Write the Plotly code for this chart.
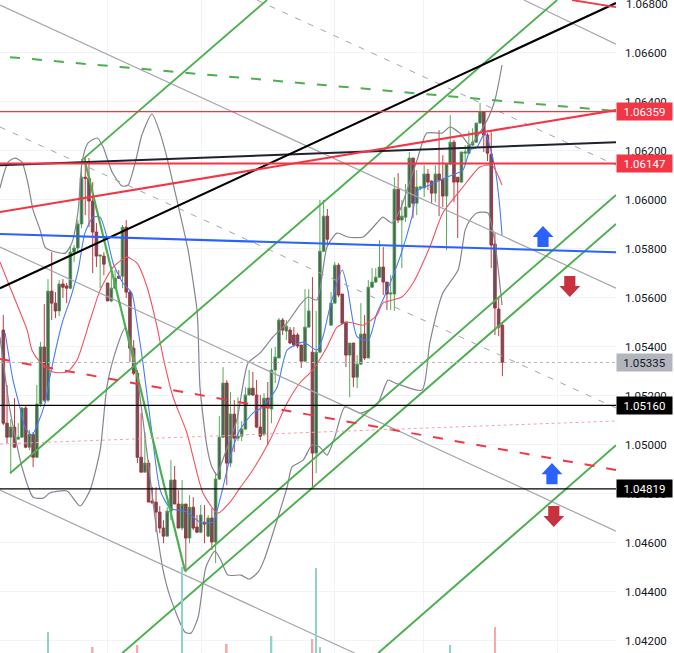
import plotly.graph_objects as go

open_ = [1.05467,1.05087,1.05030,1.05071,1.05022,1.05030,1.05149,1.04989,1.05042,1.04948,
1.05165,1.05398,1.05181,1.05626,1.05577,1.05545,1.05655,1.05647,1.05638,1.05785,
1.05802,1.05900,1.06091,1.06087,1.05994,1.05867,1.05769,1.05769,1.05659,1.05586,
1.05638,1.05687,1.05687,1.05887,1.05622,1.05393,1.05291,1.04948,1.04887,1.04924,
1.04769,1.04765,1.04724,1.04659,1.04626,1.04728,1.04855,1.04757,1.04659,1.04757,
1.04618,1.04744,1.04663,1.04642,1.04683,1.04626,1.04700,1.04602,1.04859,1.05030,
1.05251,1.04924,1.05124,1.05026,1.05034,1.05063,1.05202,1.05230,1.05202,1.05071,
1.05042,1.05189,1.05145,1.05304,1.05353,1.05508,1.05463,1.05467,1.05447,1.05447,
1.05406,1.05340,1.05479,1.05377,1.04965,1.05377,1.05789,1.05932,1.05487,1.05577,
1.05732,1.05614,1.05500,1.05365,1.05414,1.05275,1.05328,1.05451,1.05353,1.05642,
1.05663,1.05683,1.05724,1.05663,1.05614,1.05614,1.06042,1.05916,1.05928,1.05969,
1.06169,1.05985,1.06047,1.06047,1.06104,1.06075,1.06026,1.06104,1.06083,1.06014,
1.06145,1.06234,1.06091,1.06071,1.06189,1.06189,1.06222,1.06234,1.06312,1.06357,
1.06263,1.06185,1.05818,1.05553,1.05487]
high = [1.05529,1.05243,1.05104,1.05189,1.05087,1.05153,1.05161,1.05059,1.05051,1.05243,
1.05418,1.05573,1.05675,1.05785,1.05622,1.05671,1.05675,1.05659,1.05810,1.05814,
1.05916,1.06165,1.06173,1.06169,1.06071,1.05904,1.05773,1.05785,1.05659,1.05712,
1.05712,1.05712,1.05896,1.05916,1.05630,1.05426,1.05304,1.05128,1.05051,1.04936,
1.04826,1.04826,1.04749,1.04691,1.04744,1.04936,1.04912,1.04814,1.04855,1.04757,
1.04793,1.04785,1.04712,1.04753,1.04753,1.04712,1.04740,1.04887,1.05116,1.05316,
1.05263,1.05214,1.05181,1.05193,1.05096,1.05234,1.05304,1.05296,1.05263,1.05202,
1.05210,1.05255,1.05393,1.05398,1.05516,1.05516,1.05508,1.05479,1.05479,1.05455,
1.05406,1.05634,1.05634,1.05683,1.05545,1.05998,1.05998,1.05961,1.05622,1.05745,
1.05740,1.05614,1.05500,1.05414,1.05414,1.05365,1.05577,1.05528,1.05671,1.05720,
1.05720,1.05834,1.05806,1.05663,1.05691,1.06091,1.06108,1.05998,1.06063,1.06194,
1.06169,1.06120,1.06055,1.06140,1.06124,1.06079,1.06140,1.06283,1.06181,1.06145,
1.06345,1.06243,1.06091,1.06194,1.06222,1.06279,1.06291,1.06312,1.06394,1.06357,
1.06271,1.06275,1.05863,1.05602,1.05491]
low = [1.05079,1.05006,1.04883,1.04985,1.05018,1.05026,1.04985,1.04977,1.04908,1.04944,
1.05153,1.05173,1.05173,1.05508,1.05516,1.05524,1.05598,1.05577,1.05634,1.05745,
1.05781,1.05883,1.05936,1.05887,1.05700,1.05724,1.05638,1.05691,1.05586,1.05581,
1.05638,1.05675,1.05638,1.05598,1.05336,1.05283,1.04924,1.04887,1.04887,1.04765,
1.04761,1.04642,1.04638,1.04597,1.04626,1.04691,1.04757,1.04659,1.04650,1.04479,
1.04597,1.04650,1.04638,1.04638,1.04597,1.04622,1.04569,1.04516,1.04855,1.05026,
1.04834,1.04908,1.04969,1.05014,1.05014,1.05059,1.05202,1.05198,1.05067,1.05018,
1.05034,1.04997,1.05087,1.05251,1.05353,1.05447,1.05426,1.05410,1.05398,1.05393,
1.05312,1.05336,1.05479,1.04822,1.04883,1.05373,1.05785,1.05810,1.05487,1.05577,
1.05602,1.05491,1.05316,1.05193,1.05234,1.05230,1.05324,1.05345,1.05353,1.05638,
1.05659,1.05679,1.05610,1.05549,1.05549,1.05545,1.05904,1.05720,1.05908,1.05965,
1.05924,1.05936,1.06038,1.06010,1.06038,1.05985,1.05989,1.05932,1.05969,1.05794,
1.06140,1.05989,1.05843,1.06067,1.06140,1.06185,1.06218,1.06230,1.06308,1.06194,
1.06157,1.05720,1.05447,1.05442,1.05279]
close = [1.05087,1.05030,1.05071,1.04989,1.05030,1.05149,1.04989,1.05042,1.04948,1.05165,
1.05398,1.05181,1.05626,1.05577,1.05545,1.05655,1.05642,1.05638,1.05785,1.05802,
1.05900,1.06091,1.06087,1.05994,1.05867,1.05769,1.05773,1.05736,1.05586,1.05638,
1.05679,1.05679,1.05887,1.05622,1.05393,1.05291,1.04948,1.04887,1.04924,1.04765,
1.04761,1.04724,1.04659,1.04626,1.04728,1.04855,1.04757,1.04659,1.04757,1.04618,
1.04744,1.04659,1.04642,1.04712,1.04675,1.04700,1.04602,1.04859,1.05030,1.05251,
1.04924,1.05124,1.05026,1.05034,1.05063,1.05202,1.05230,1.05202,1.05071,1.05034,
1.05189,1.05149,1.05304,1.05357,1.05508,1.05467,1.05483,1.05414,1.05406,1.05402,
1.05340,1.05479,1.05545,1.04965,1.05377,1.05789,1.05932,1.05838,1.05577,1.05732,
1.05610,1.05495,1.05365,1.05414,1.05275,1.05328,1.05451,1.05353,1.05642,1.05663,
1.05683,1.05724,1.05663,1.05614,1.05618,1.06042,1.05916,1.05932,1.05969,1.06169,
1.05985,1.06051,1.06051,1.06104,1.06071,1.06026,1.06104,1.06079,1.06014,1.06145,
1.06234,1.06071,1.06071,1.06194,1.06194,1.06222,1.06234,1.06312,1.06357,1.06263,
1.06189,1.05814,1.05557,1.05479,1.05336]
bars = list(range(len(open_)))

vol_bars = [12,24,36,48,60,72,83,84,85,120,132]
vol_vals = [21,6,8,86,9,17,14,85,6,8,26]
vol_cols = ["#8fd3c8","#f9a9a9","#f9a9a9","#8fd3c8","#f9a9a9","#8fd3c8","#f9a9a9","#8fd3c8","#8fd3c8","#8fd3c8","#f9a9a9"]

upper_x = [-0.9,0.2,1.3,3.1,5.0,6.6,8.0,9.9,11.2,13.3,16.6,18.4,20.1,21.1,22.7,25.2,26.8,29.2,31.9,33.5,35.4,37.2,39.9,42.1,43.9,46.6,49.6,52.0,52.3,52.8,54.7,56.0,57.4,58.2,62.7,65.7,68.9,72.4,76.2,79.6,81.8,84.2,86.9,89.6,92.5,96.6,100.3,101.9,104.4,106.5,111.1,113.7,117.8,119.9,122.6,125.3,129.9,132.0,133.9]
upper_y = [1.06047,1.06108,1.06153,1.06169,1.06153,1.06067,1.05957,1.05875,1.05806,1.05789,1.05781,1.05822,1.05957,1.06149,1.06230,1.06251,1.06214,1.06112,1.06055,1.06059,1.06149,1.06263,1.06349,1.06271,1.06173,1.05998,1.05794,1.05549,1.05467,1.05234,1.04989,1.04908,1.04875,1.04908,1.05100,1.05332,1.05373,1.05439,1.05496,1.05569,1.05602,1.05590,1.05806,1.05863,1.05847,1.05847,1.05904,1.05928,1.05904,1.05957,1.06161,1.06271,1.06271,1.06296,1.06271,1.06222,1.06324,1.06406,1.06549]
lower_x = [-0.9,1.8,5.0,8.0,10.7,12.5,17.1,20.6,23.3,26.0,27.8,30.0,32.7,34.8,37.5,40.7,42.9,44.8,48.8,50.4,52.3,54.4,56.8,58.4,60.3,63.8,66.0,68.4,70.0,76.2,77.5,80.5,82.9,85.0,86.9,89.0,91.7,95.8,100.3,103.3,105.2,112.4,114.5,118.0,122.1,124.0,125.3,127.2,130.1,132.0,133.9]
lower_y = [1.05439,1.05140,1.04908,1.04785,1.04781,1.04802,1.04810,1.04749,1.04814,1.04977,1.05234,1.05373,1.05475,1.05385,1.05100,1.04704,1.04487,1.04377,1.04234,1.04230,1.04295,1.04500,1.04565,1.04528,1.04467,1.04467,1.04450,1.04479,1.04528,1.04826,1.04908,1.04936,1.04998,1.04989,1.04957,1.05030,1.05153,1.05128,1.05161,1.05263,1.05251,1.05222,1.05414,1.05618,1.05712,1.05875,1.05916,1.05945,1.05945,1.05822,1.05569]
fast_x = [0.5,2.6,4.5,5.8,7.7,9.3,11.2,12.5,15.8,17.9,20.1,21.9,24.1,26.0,27.8,29.5,32.1,34.5,35.9,37.5,39.9,42.1,44.8,49.3,52.8,56.3,57.4,59.0,60.9,63.5,67.0,69.7,73.5,76.2,80.5,84.2,85.8,87.7,91.0,92.5,95.0,98.0,100.3,102.5,106.5,109.7,111.3,114.5,119.1,123.4,125.3,127.2,129.3,132.0,133.3,133.9]
fast_y = [1.05455,1.05263,1.05149,1.05071,1.05038,1.05087,1.05169,1.05275,1.05496,1.05590,1.05712,1.05863,1.05928,1.05928,1.05847,1.05740,1.05659,1.05618,1.05496,1.05332,1.05047,1.04814,1.04740,1.04724,1.04683,1.04683,1.04732,1.04826,1.04948,1.05059,1.05128,1.05153,1.05234,1.05385,1.05418,1.05385,1.05439,1.05561,1.05712,1.05630,1.05439,1.05426,1.05536,1.05610,1.05765,1.05928,1.06038,1.06059,1.06091,1.06120,1.06202,1.06214,1.06271,1.06132,1.05969,1.05855]
slow_x = [-0.9,1.8,6.4,7.7,9.9,13.3,17.1,19.8,23.3,26.0,29.5,33.2,35.9,38.6,41.3,42.9,45.6,49.3,53.6,57.6,60.9,63.5,67.0,71.6,76.2,79.6,83.1,86.9,89.6,92.5,96.6,100.3,101.9,107.0,110.0,114.5,118.0,123.4,127.9,131.2,133.9]
slow_y = [1.05745,1.05642,1.05467,1.05385,1.05336,1.05296,1.05296,1.05345,1.05508,1.05630,1.05724,1.05765,1.05740,1.05642,1.05479,1.05357,1.05193,1.05047,1.04802,1.04720,1.04765,1.04822,1.04896,1.05018,1.05169,1.05251,1.05304,1.05398,1.05479,1.05500,1.05487,1.05528,1.05577,1.05602,1.05659,1.05806,1.05945,1.06051,1.06132,1.06140,1.06059]

XL, XR = -0.89, 164.5
black_trend = ([XL, XR], [1.05638, 1.06802])
navy_trend = ([XL, XR], [1.06140, 1.06234])
red_trend = ([XL, XR], [1.05949, 1.06365])
red_top = ([152.7, XR], [1.06814, 1.06785])
blue_trend = ([XL, XR], [1.05859, 1.05785])
green_dash = ([1.8, XR], [1.06581, 1.06361])
red_dash = ([XL, XR], [1.05349, 1.04896])
pink_dot = ([XL, XR], [1.05002, 1.05096])
green_lines = [([1.8, 148.7], [1.04883, 1.06814]),
               ([21.7, 70.8], [1.06169, 1.06814]),
               ([48.8, XR], [1.04483, 1.06018]),
               ([31.9, XR], [1.04148, 1.05900]),
               ([100.6, XR], [1.04148, 1.04997])]
green_leg = ([21.7, 48.8], [1.06169, 1.04483])
gray_solid = [([139.8, XR], [1.06814, 1.06634]),
              ([XL, XR], [1.06794, 1.05638]),
              ([XL, XR], [1.05806, 1.04646]),
              ([XL, 94.4], [1.04814, 1.04148])]
gray_dash = [([68.1, XR], [1.06814, 1.06140]),
             ([XL, XR], [1.06296, 1.05149])]

level_red_thin = 1.06359
level_red = 1.06147
level_last = 1.05335
level_black_1 = 1.05160
level_black_2 = 1.04819
tick_vals = [1.042,1.044,1.046,1.048,1.050,1.052,1.054,1.056,1.058,1.060,1.062,1.064,1.066,1.068]
grid_bars = [28.1, 53.1, 89.0, 112.9, 148.9]

arrow_tips_up = [(144.9, 1.05892), (147.3, 1.04924)]
arrow_tips_down = [(152.1, 1.05602), (147.8, 1.04663)]

GREEN = "#4caf50"; RED = "#f23645"; BLUE = "#2962ff"
fig = go.Figure()

fig.add_trace(go.Bar(x=vol_bars, y=vol_vals, marker=dict(color=vol_cols, line_width=0), width=0.45, yaxis="y2"))
fig.add_trace(go.Candlestick(x=bars, open=open_, high=high, low=low, close=close,
    increasing=dict(line=dict(color="#43a047", width=0.9), fillcolor="#565963"),
    decreasing=dict(line=dict(color="#b22833", width=0.9), fillcolor="#565963")))

def line(pair, color, width, dash="solid"):
    fig.add_trace(go.Scatter(x=pair[0], y=pair[1], mode="lines", line=dict(color=color, width=width, dash=dash)))

def curve(xs, ys, color, width):
    fig.add_trace(go.Scatter(x=xs, y=ys, mode="lines", line=dict(color=color, width=width, shape="spline", smoothing=0.6)))

curve(upper_x, upper_y, "#85858f", 1.2)
curve(lower_x, lower_y, "#85858f", 1.2)
curve(fast_x, fast_y, "#4a7cf7", 1.1)
curve(slow_x, slow_y, "#f4505c", 1.1)

for p in gray_solid:
    line(p, "#a5a5ab", 1.2)
for p in gray_dash:
    line(p, "#a5a5ab", 1, "6px,8px")
for p in green_lines:
    line(p, GREEN, 1.9)
line(green_leg, GREEN, 2.2)
line(green_dash, GREEN, 2, "10px,12px")
line(red_dash, RED, 2, "10px,12px")
line(pink_dot, "#f9a0a8", 1, "dot")
line(navy_trend, "#1e222d", 2)
line(black_trend, "#000000", 2.1)
line(red_trend, RED, 2.1)
line(red_top, RED, 1.9)
line(blue_trend, BLUE, 2.1)
line(([XL, XR], [level_red_thin]*2), RED, 1.2)
line(([XL, XR], [level_red]*2), RED, 2)
line(([XL, XR], [level_black_1]*2), "#000000", 1.3)
line(([XL, XR], [level_black_2]*2), "#000000", 1.3)
line(([XL, XR], [level_last]*2), "#b2b5be", 1, "dot")

# block arrows, sized in axis units
AW, SW, AH, TH = 2.8, 1.5, 0.00045, 0.00086
for (ax, ay) in arrow_tips_up:
    fig.add_trace(go.Scatter(x=[ax, ax+AW, ax+SW, ax+SW, ax-SW, ax-SW, ax-AW, ax],
                             y=[ay, ay-AH, ay-AH, ay-TH, ay-TH, ay-AH, ay-AH, ay],
                             mode="lines", fill="toself", fillcolor=BLUE, line=dict(width=0, color=BLUE)))
for (ax, ay) in arrow_tips_down:
    fig.add_trace(go.Scatter(x=[ax, ax+AW, ax+SW, ax+SW, ax-SW, ax-SW, ax-AW, ax],
                             y=[ay, ay+AH, ay+AH, ay+TH, ay+TH, ay+AH, ay+AH, ay],
                             mode="lines", fill="toself", fillcolor="#c8323f", line=dict(width=0, color="#c8323f")))

labels = [(level_red_thin, "1.06359", RED, "#ffffff"),
          (level_red, "1.06147", RED, "#ffffff"),
          (level_last, "1.05335", "#b2b5be", "#131722"),
          (level_black_1, "1.05160", "#000000", "#ffffff"),
          (level_black_2, "1.04819", "#000000", "#ffffff")]
annotations = [dict(x=1, xref="paper", y=v, yref="y", xanchor="left", yanchor="middle", text=t,
                    showarrow=False, bgcolor=bg, width=52, height=14, borderpad=1.5, align="center",
                    font=dict(family="Roboto", size=11.5, color=fg)) for v, t, bg, fg in labels]
annotations.append(dict(x=1, xref="paper", xshift=8, y=1.068, yref="y", xanchor="left", yanchor="middle",
                        text="1.06800", showarrow=False, font=dict(family="Roboto", size=11.5, color="#131722")))

fig.update_layout(
    width=674, height=653, margin=dict(l=0, r=58, t=0, b=0), showlegend=False,
    paper_bgcolor="#ffffff", plot_bgcolor="#ffffff", boxgap=0, annotations=annotations,
    font=dict(family="Roboto", size=11.5, color="#131722"),
    xaxis=dict(range=[XL, XR], rangeslider=dict(visible=False), tickvals=grid_bars, showticklabels=False,
               gridcolor="#f0f3fa", gridwidth=1, zeroline=False, showline=False, ticks=""),
    yaxis=dict(range=[1.04149, 1.068143], side="right", tickvals=tick_vals[:-1], ticktext=[f"{v:.5f}" for v in tick_vals[:-1]],
               gridcolor="#f0f3fa", gridwidth=1, zeroline=False, showline=False, ticks="", ticklabelstandoff=8),
    yaxis2=dict(range=[0, 653], overlaying="y", visible=False),
)
fig.write_html("out.html", config=dict(displayModeBar=False), post_script="document.body.style.margin='0';")
